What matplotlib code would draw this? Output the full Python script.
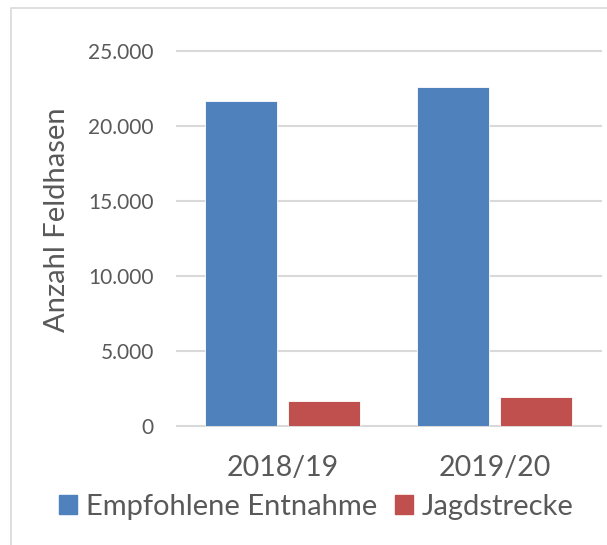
import matplotlib
matplotlib.use("Agg")
import matplotlib.pyplot as plt
import numpy as np
from matplotlib.patches import Patch, Rectangle
from matplotlib.ticker import FuncFormatter

# ── Daten ─────────────────────────────────────────────────────────────────────
seasons = ["2018/19", "2019/20"]
empfohlene_entnahme = [21650, 22600]
jagdstrecke = [1630, 1900]
series_names = ["Empfohlene Entnahme", "Jagdstrecke"]
y_ticks = [0, 5000, 10000, 15000, 20000, 25000]

BLUE = "#4f81bd"
RED = "#c0504d"
GRID = "#d9d9d9"
TEXT = "#595959"

plt.rcParams["font.family"] = ["Lato", "DejaVu Sans"]

fig = plt.figure(figsize=(6.07, 5.45), dpi=100)
ax = fig.add_axes([0.291, 0.219, 0.6985, 0.687])

# Rahmen um das Diagramm
fig.patches.append(Rectangle((11 / 607, -0.1), 1.2, 1.1 - 8 / 545,
                             transform=fig.transFigure, fill=False,
                             edgecolor=GRID, lw=1.2))

x = np.arange(len(seasons))
w = 0.34
off = 0.195
ax.bar(x - off, empfohlene_entnahme, w, color=BLUE, edgecolor="white", lw=0.6, zorder=3)
ax.bar(x + off, jagdstrecke, w, color=RED, edgecolor="white", lw=0.6, zorder=3)

ax.set_xlim(-0.5, 1.5)
ax.set_ylim(0, 25000)
ax.set_yticks(y_ticks)
ax.yaxis.set_major_formatter(FuncFormatter(lambda v, _: f"{int(v):,}".replace(",", ".")))
ax.set_xticks(x)
ax.set_xticklabels(seasons)

for t in y_ticks:
    ax.axhline(t, color=GRID, lw=1.5, zorder=1, clip_on=False)

for s in ax.spines.values():
    s.set_visible(False)
ax.tick_params(axis="both", length=0, colors=TEXT)
ax.tick_params(axis="y", labelsize=15, pad=16.3)
ax.tick_params(axis="x", labelsize=20.5, pad=21)
for lbl in ax.get_yticklabels():
    lbl.set_horizontalalignment("right")

ax.set_ylabel("Anzahl Feldhasen", fontsize=21, color=TEXT, va="center")
ax.yaxis.set_label_coords(-0.281, 0.549)

handles = [Patch(color=BLUE), Patch(color=RED)]
fig.legend(handles, series_names, loc="center", bbox_to_anchor=(0.521, 0.070),
           ncol=2, frameon=False, fontsize=21, labelcolor=TEXT,
           handlelength=0.62, handleheight=0.62, handletextpad=0.32,
           columnspacing=0.6, borderaxespad=0, borderpad=0)

fig.savefig("out.png", dpi=100)
